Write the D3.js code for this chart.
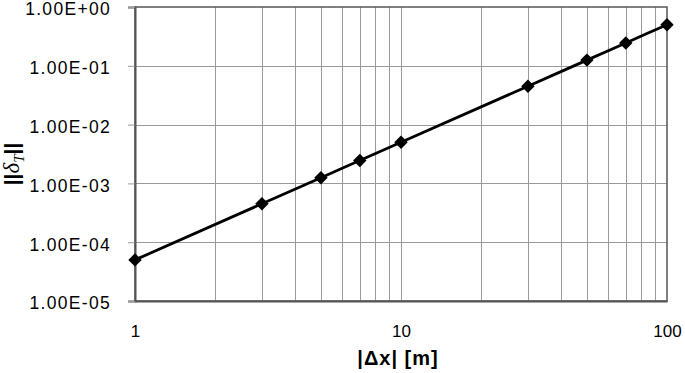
<!DOCTYPE html>
<html><head><meta charset="utf-8">
<script src="https://cdn.jsdelivr.net/npm/d3@7"></script>
<style>body{margin:0;background:#fff}svg{display:block;font-family:"Liberation Sans",Arial,sans-serif}</style>
</head><body><svg id="c" width="685" height="373"></svg>
<script>
const dx = [1, 3, 5, 7, 10, 30, 50, 70, 100];
const deltaT = [5.0e-5, 4.5e-4, 1.25e-3, 2.45e-3, 5.0e-3, 4.5e-2, 0.125, 0.245, 0.5];
const yTicks = [1e-5, 1e-4, 1e-3, 1e-2, 1e-1, 1];
const yTickLabels = ["1.00E-05", "1.00E-04", "1.00E-03", "1.00E-02", "1.00E-01", "1.00E+00"];
const xTicks = [1, 10, 100];
const xTickLabels = ["1", "10", "100"];
const xMinor = [2,3,4,5,6,7,8,9,20,30,40,50,60,70,80,90];

const svg = d3.select("#c");
const L = 135, R = 667, T = 7, B = 301;
const x = d3.scaleLog().domain([1, 100]).range([L, R]);
const y = d3.scaleLog().domain([1e-5, 1]).range([B, T]);

// grid
svg.append("g").selectAll("line").data(xMinor.concat([10])).join("line")
  .attr("x1", d => Math.round(x(d)) + 0.5).attr("x2", d => Math.round(x(d)) + 0.5)
  .attr("y1", T).attr("y2", B).attr("stroke", "#9a9a9a").attr("stroke-width", 1);
svg.append("g").selectAll("line").data(yTicks.slice(1, -1)).join("line")
  .attr("x1", L).attr("x2", R)
  .attr("y1", d => Math.round(y(d)) + 0.5).attr("y2", d => Math.round(y(d)) + 0.5)
  .attr("stroke", "#9a9a9a").attr("stroke-width", 1);

// frame
svg.append("rect").attr("x", L).attr("y", T).attr("width", R - L).attr("height", B - T)
  .attr("fill", "none").attr("stroke", "#555").attr("stroke-width", 1.5);

// y axis
const yAxis = d3.axisLeft(y).tickValues(yTicks).tickSize(7).tickPadding(17)
  .tickFormat((d, i) => yTickLabels[i]);
const gy = svg.append("g").attr("transform", `translate(${L},0)`).call(yAxis);
gy.select(".domain").attr("stroke", "#555").attr("stroke-width", 2);
gy.selectAll(".tick line").attr("stroke", "#999");
gy.selectAll("text").attr("font-size", 17.5).attr("fill", "#000")
  .attr("letter-spacing", 1.3).attr("dy", "0.45em")
  .attr("font-family", "Liberation Sans, Arial, sans-serif");

// x axis
const xAxis = d3.axisBottom(x).tickValues(xTicks).tickSize(0).tickPadding(24)
  .tickFormat((d, i) => xTickLabels[i]);
const gx = svg.append("g").attr("transform", `translate(0,${B})`).call(xAxis);
gx.select(".domain").attr("stroke", "#555").attr("stroke-width", 2);
gx.selectAll("text").attr("font-size", 17).attr("fill", "#000")
  .attr("font-family", "Liberation Sans, Arial, sans-serif");

// line
const line = d3.line().x((d, i) => x(dx[i])).y(d => y(d)).curve(d3.curveMonotoneX);
svg.append("path").datum(deltaT).attr("d", line).attr("fill", "none")
  .attr("stroke", "#000").attr("stroke-width", 2.8);

// markers
svg.append("g").selectAll("path").data(deltaT).join("path")
  .attr("transform", (d, i) => `translate(${x(dx[i])},${y(d)})`)
  .attr("d", d3.symbol().type(d3.symbolDiamond2).size(115)).attr("fill", "#000");

// x label
svg.append("text").attr("x", 398).attr("y", 365).attr("text-anchor", "middle")
  .attr("font-size", 20).attr("font-weight", "bold").attr("letter-spacing", 1)
  .text("|Δx| [m]");

// y label
const yl = svg.append("text").attr("transform", "translate(19,164) rotate(-90)")
  .attr("text-anchor", "middle").attr("font-size", 21).attr("font-weight", "bold");
yl.append("tspan").text("||");
yl.append("tspan").attr("font-style", "italic").attr("font-weight", "normal")
  .attr("font-size", 23).attr("font-family", "Liberation Serif, serif").text("δ");
yl.append("tspan").attr("font-style", "italic").attr("font-weight", "normal")
  .attr("font-size", 15).attr("dy", 5).attr("font-family", "Liberation Serif, serif").text("T");
yl.append("tspan").attr("dy", -5).text("||");
</script></body></html>
